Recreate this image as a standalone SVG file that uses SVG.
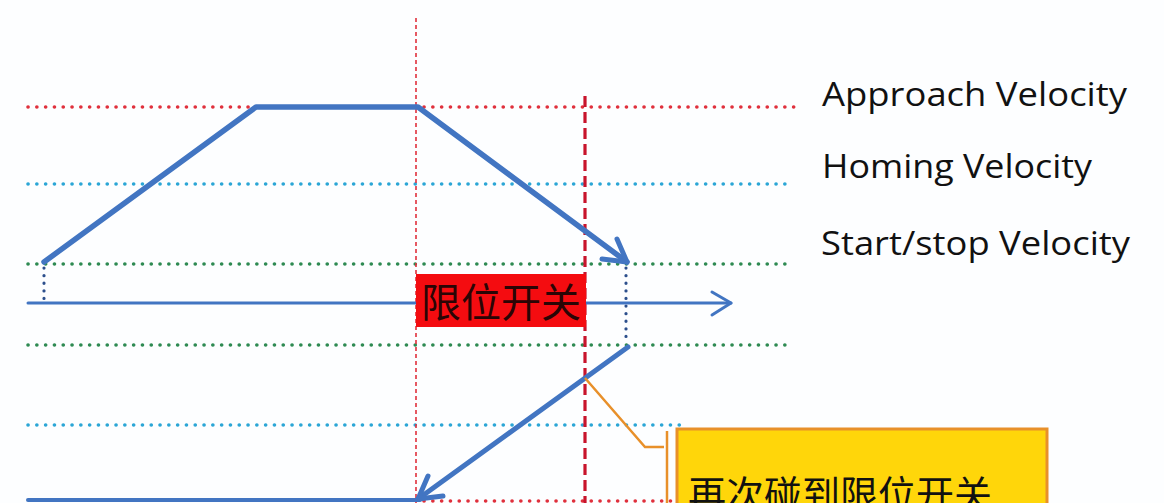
<svg xmlns="http://www.w3.org/2000/svg" width="1164" height="503" viewBox="0 0 1164 503">
<style>
.dot{fill:none;stroke-width:3.6;stroke-linecap:round;stroke-dasharray:0.1 8.7}
.red{stroke:#E0303C}
.cyan{stroke:#2BA6D6}
.green{stroke:#2E8A52}
.vdot{fill:none;stroke:#2C4F8C;stroke-width:3.2;stroke-linecap:round;stroke-dasharray:0.1 7.5}
.blue{fill:none;stroke:#4275C2;stroke-linecap:round;stroke-linejoin:round}
.lbl{font-family:"Open Sans",Lato,"Liberation Sans",sans-serif;font-size:32px;fill:#111}
.cjk{font-family:"Noto Sans CJK SC","Noto Sans CJK JP",sans-serif}
.orange{fill:none;stroke:#E8902A;stroke-width:2.5}
</style>
<rect width="1164" height="503" fill="#FDFEFF"/>
<g id="guides">
<line class="dot red" x1="28" y1="107" x2="795" y2="107"/>
<line class="dot cyan" x1="28" y1="184" x2="790" y2="184"/>
<line class="dot green" x1="28" y1="264" x2="790" y2="264"/>
<line class="dot green" x1="28" y1="345" x2="790" y2="345"/>
<line class="dot cyan" x1="28" y1="425" x2="686" y2="425"/>
<line class="dot red" x1="424" y1="501" x2="672" y2="501"/>
<line x1="416" y1="18" x2="416" y2="503" stroke="#E0303C" stroke-width="1.6" stroke-dasharray="4 3"/>
<line x1="585" y1="96" x2="585" y2="503" stroke="#C8142C" stroke-width="3.2" stroke-dasharray="11 5"/>
<line class="vdot" x1="44" y1="268" x2="44" y2="303"/>
<line class="vdot" x1="626" y1="268" x2="626" y2="342"/>
</g>
<g id="axis">
<line class="blue" x1="28" y1="303" x2="731" y2="303" stroke-width="3"/>
<polyline class="blue" points="712,292 731,303 712,315" stroke-width="3"/>
<line class="blue" x1="28" y1="500" x2="420" y2="500" stroke-width="4"/>
</g>
<g id="switch">
<rect x="416" y="274" width="170" height="53" fill="#F40C10"/>
<text x="421" y="317" class="cjk" font-size="40" fill="#2A0505">限位开关</text>
</g>
<g id="connectors">
<polyline class="blue" points="44,262 256,107 418,107 627,262" stroke-width="5.5"/>
<polyline class="blue" points="602,259 627,262 617,239" stroke-width="5"/>
<line class="blue" x1="628" y1="347" x2="418" y2="499" stroke-width="5"/>
<polyline class="blue" points="443,496 418,499 428,476" stroke-width="5"/>
<polyline class="orange" points="585,378 645,447 664,447"/>
<line class="orange" x1="667" y1="431" x2="667" y2="503"/>
</g>
<g id="labels">
<text class="lbl" x="822" y="106" textLength="305" lengthAdjust="spacingAndGlyphs">Approach Velocity</text>
<text class="lbl" x="822" y="178" textLength="270" lengthAdjust="spacingAndGlyphs">Homing Velocity</text>
<text class="lbl" x="821" y="255" textLength="309" lengthAdjust="spacingAndGlyphs">Start/stop Velocity</text>
</g>
<g id="note">
<rect x="677" y="429" width="370" height="90" fill="#FFD60A" stroke="#E8902A" stroke-width="3"/>
<text x="688" y="508" class="cjk" font-size="38" fill="#111">再次碰到限位开关</text>
</g>
</svg>
